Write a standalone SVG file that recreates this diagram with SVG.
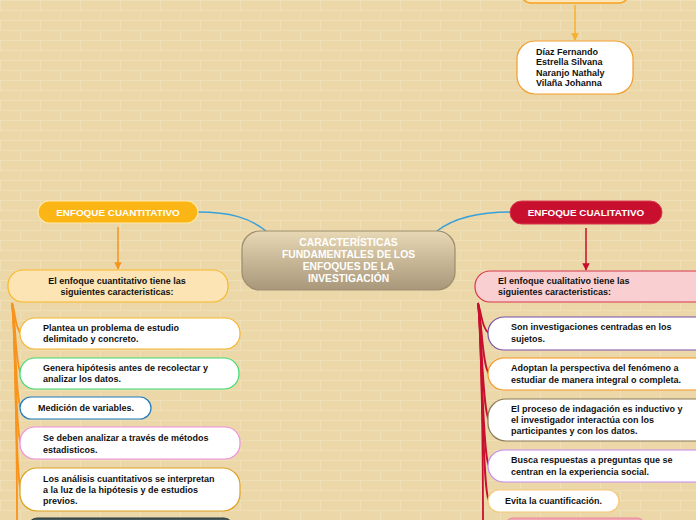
<svg xmlns="http://www.w3.org/2000/svg" width="696" height="520" viewBox="0 0 696 520">
<defs>
<pattern id="bricks" width="40" height="20" patternUnits="userSpaceOnUse">
<rect width="40" height="20" fill="#ebd7a8"/>
<path d="M0 0.5H40M0 10.5H40M0.5 0V10M20.5 10V20" stroke="#efdfb6" stroke-width="1" fill="none"/>
</pattern>
<linearGradient id="cg" x1="0" y1="0" x2="0" y2="1">
<stop offset="0" stop-color="#e8d8b4"/>
<stop offset="1" stop-color="#a8977a"/>
</linearGradient>
<marker id="ao" viewBox="0 0 10 10" refX="9" refY="5" markerWidth="5" markerHeight="5" orient="auto"><path d="M0 0L10 5L0 10z" fill="#f7941d"/></marker>
<marker id="ay" viewBox="0 0 10 10" refX="9" refY="5" markerWidth="5" markerHeight="5" orient="auto"><path d="M0 0L10 5L0 10z" fill="#f6b12f"/></marker>
<marker id="ar" viewBox="0 0 10 10" refX="9" refY="5" markerWidth="5" markerHeight="5" orient="auto"><path d="M0 0L10 5L0 10z" fill="#c8102e"/></marker>
</defs>
<style>
text{font-family:"Liberation Sans",Arial,sans-serif;font-weight:bold;}
.t{font-size:9px;fill:#111;}
.w{fill:#fff;}
.box{fill:#fff;stroke-width:1.2;}
.blue{fill:none;stroke:#3aa0d8;stroke-width:1.5;}
.ol{fill:none;stroke:#f7941d;stroke-width:1.8;}
.rl{fill:none;stroke:#c8102e;stroke-width:1.8;}
</style>
<rect width="696" height="520" fill="url(#bricks)"/>

<g id="connectors">
<path class="blue" d="M198 212C230 212 250 218 266 231"/>
<path class="blue" d="M437 231C455 217 480 212 510 212"/>
<path d="M575 5V40" stroke="#f6b12f" stroke-width="1.5" fill="none" marker-end="url(#ay)"/>
<path d="M118 227V269" stroke="#f7941d" stroke-width="1.5" fill="none" marker-end="url(#ao)"/>
<path d="M586 228V270" stroke="#c8102e" stroke-width="1.5" fill="none" marker-end="url(#ar)"/>
<path class="ol" d="M12 303C16 315 15 328 21 333.5"/>
<path class="ol" d="M12 303C16 320 15 365 21 373.5"/>
<path class="ol" d="M12 303C16 325 15 400 21 408"/>
<path class="ol" d="M12 303C16 330 15 435 21 443"/>
<path class="ol" d="M12 303C16 335 15 480 21 489.5"/>
<path class="ol" d="M12 303C16 340 17 480 17 520"/>
<path class="rl" d="M478 303C482 315 482 328 489 333.5"/>
<path class="rl" d="M478 303C482 320 482 365 489 374"/>
<path class="rl" d="M478 303C482 325 482 410 489 420"/>
<path class="rl" d="M478 303C482 330 482 455 489 466"/>
<path class="rl" d="M478 303C482 335 482 492 489 501"/>
<path class="rl" d="M478 303C482 340 483 480 483 520"/>
</g>

<g id="top-node">
<rect x="521" y="-30" width="108" height="33" rx="10" fill="#fde6b8" stroke="#f6a21e" stroke-width="1.5"/>
</g>

<g id="authors">
<rect x="517" y="41" width="116" height="53" rx="18" class="box" stroke="#f39c2a"/>
<text class="t" x="536" y="54.5">Díaz Fernando</text>
<text class="t" x="536" y="65">Estrella Silvana</text>
<text class="t" x="536" y="75.5">Naranjo Nathaly</text>
<text class="t" x="536" y="86">Vilaña Johanna</text>
</g>

<g id="central">
<rect x="242" y="231" width="213" height="59" rx="18" fill="url(#cg)" stroke="#9c8c6c" stroke-width="1.2"/>
<text class="w" x="348.5" y="245.5" font-size="10.3" text-anchor="middle">CARACTERÍSTICAS</text>
<text class="w" x="348.5" y="257.5" font-size="10.3" text-anchor="middle">FUNDAMENTALES DE LOS</text>
<text class="w" x="348.5" y="269.5" font-size="10.3" text-anchor="middle">ENFOQUES DE LA</text>
<text class="w" x="348.5" y="281.5" font-size="10.3" text-anchor="middle">INVESTIGACIÓN</text>
</g>

<g id="cuantitativo">
<rect x="38" y="201" width="160" height="22" rx="11" fill="#fbb615" stroke="#fde7a8" stroke-width="1.2"/>
<text class="w" x="118" y="215.5" font-size="9.9" text-anchor="middle">ENFOQUE CUANTITATIVO</text>
</g>

<g id="cuanti-header">
<rect x="8" y="270" width="220" height="32" rx="15" fill="#fce4b4" stroke="#f9b727" stroke-width="1.2"/>
<text class="t" x="117" y="284" text-anchor="middle">El enfoque cuantitativo tiene las</text>
<text class="t" x="117" y="295" text-anchor="middle">siguientes caracteristicas:</text>
</g>

<g id="q1">
<rect x="20" y="318" width="220" height="31" rx="15" class="box" stroke="#f7b52c"/>
<text class="t" x="43" y="330.5">Plantea un problema de estudio</text>
<text class="t" x="43" y="342">delimitado y concreto.</text>
</g>
<g id="q2">
<rect x="20" y="358" width="219" height="31" rx="15" class="box" stroke="#3ddc6f"/>
<text class="t" x="43" y="371" font-size="8.6">Genera hipótesis antes de recolectar y</text>
<text class="t" x="43" y="382" font-size="8.6">analizar los datos.</text>
</g>
<g id="q3">
<rect x="20" y="397" width="131" height="22" rx="11" class="box" stroke="#1f7bbf"/>
<text class="t" x="38" y="411">Medición de variables.</text>
</g>
<g id="q4">
<rect x="20" y="427" width="220" height="32" rx="15" class="box" stroke="#f08ee0"/>
<text class="t" x="43" y="441">Se deben analizar a través de métodos</text>
<text class="t" x="43" y="453">estadisticos.</text>
</g>
<g id="q5">
<rect x="20" y="468" width="220" height="43" rx="17" class="box" stroke="#e0a020"/>
<text class="t" x="43" y="482">Los análisis cuantitativos se interpretan</text>
<text class="t" x="43" y="493">a la luz de la hipótesis y de estudios</text>
<text class="t" x="43" y="504">previos.</text>
</g>
<g id="q6">
<rect x="29" y="518" width="203" height="20" rx="8" fill="#46585a" stroke="#2d3b3b" stroke-width="1.2"/>
</g>

<g id="cualitativo">
<rect x="510" y="201" width="152" height="23" rx="11.5" fill="#c8102e" stroke="#d83a50" stroke-width="1"/>
<text class="w" x="586" y="215.8" font-size="9.9" text-anchor="middle">ENFOQUE CUALITATIVO</text>
</g>

<g id="cuali-header">
<rect x="475" y="271" width="240" height="31" rx="15" fill="#f9cfd1" stroke="#d8374a" stroke-width="1.2"/>
<text class="t" x="498" y="284">El enfoque cualitativo tiene las</text>
<text class="t" x="498" y="295">siguientes caracteristicas:</text>
</g>

<g id="c1">
<rect x="488" y="317" width="230" height="33" rx="16" class="box" stroke="#7b4fa8"/>
<text class="t" x="511" y="330">Son investigaciones centradas en los</text>
<text class="t" x="511" y="342">sujetos.</text>
</g>
<g id="c2">
<rect x="488" y="358" width="230" height="32" rx="16" class="box" stroke="#f7941d"/>
<text class="t" x="511" y="371">Adoptan la perspectiva del fenómeno a</text>
<text class="t" x="511" y="383">estudiar de manera integral o completa.</text>
</g>
<g id="c3">
<rect x="488" y="399" width="230" height="42" rx="18" class="box" stroke="#8a7a55"/>
<text class="t" x="511" y="412">El proceso de indagación es inductivo y</text>
<text class="t" x="511" y="423">el investigador interactúa con los</text>
<text class="t" x="511" y="433.5">participantes y con los datos.</text>
</g>
<g id="c4">
<rect x="488" y="450" width="230" height="32" rx="16" class="box" stroke="#c58af0"/>
<text class="t" x="511" y="463">Busca respuestas a preguntas que se</text>
<text class="t" x="511" y="474.5">centran en la experiencia social.</text>
</g>
<g id="c5">
<rect x="488" y="490" width="131" height="22" rx="11" class="box" stroke="#f8c87a"/>
<text class="t" x="505" y="504">Evita la cuantificación.</text>
</g>
<g id="c6">
<rect x="505" y="518" width="140" height="20" rx="8" fill="#f4a6b5" stroke="#e88a9c" stroke-width="1"/>
</g>
</svg>
